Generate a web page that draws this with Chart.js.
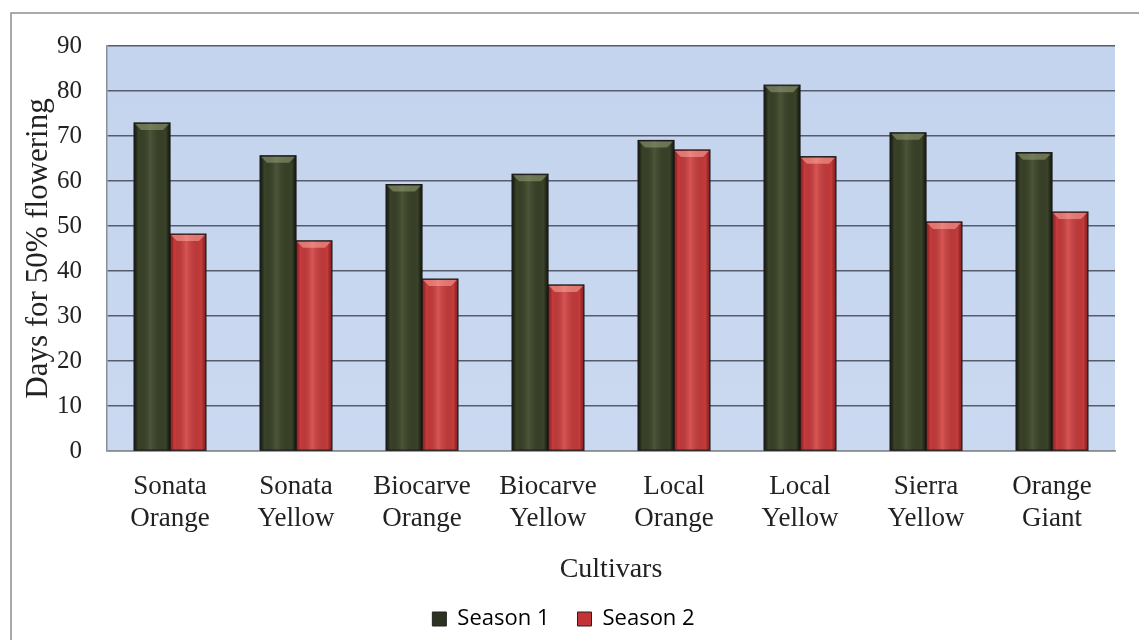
<!DOCTYPE html>
<html>
<head>
<meta charset="utf-8">
<script src="https://cdn.jsdelivr.net/npm/chart.js@4/dist/chart.umd.min.js"></script>
<style>
  html, body { margin: 0; padding: 0; background: #ffffff; }
  #wrap { width: 1139px; height: 640px; position: relative; }
</style>
</head>
<body>
<div id="wrap"><canvas id="c" width="1139" height="640"></canvas></div>
<script>
// Days for 50% flowering per cultivar, two growing seasons
const cultivars = [
  ["Sonata", "Orange"], ["Sonata", "Yellow"], ["Biocarve", "Orange"], ["Biocarve", "Yellow"],
  ["Local", "Orange"], ["Local", "Yellow"], ["Sierra", "Yellow"], ["Orange", "Giant"]
];
const season1 = [72.9, 65.6, 59.2, 61.5, 69.0, 81.3, 70.7, 66.3];
const season2 = [48.2, 46.7, 38.2, 36.9, 66.9, 65.4, 50.9, 53.1];
const seriesNames = ["Season 1", "Season 2"];
const yTicks = [0, 10, 20, 30, 40, 50, 60, 70, 80, 90];

const serif = "'Liberation Serif', 'DejaVu Serif', serif";
const sans = "'Open Sans', 'Liberation Sans', sans-serif";

// Outer frame and plot background
const framePlugin = {
  id: 'frame',
  beforeDraw(chart) {
    const { ctx, chartArea: a } = chart;
    ctx.save();
    ctx.fillStyle = '#ffffff';
    ctx.fillRect(0, 0, chart.width, chart.height);
    ctx.strokeStyle = '#8a8d92';
    ctx.lineWidth = 1.5;
    ctx.strokeRect(11, 13, chart.width + 10, chart.height + 20);
    const g = ctx.createLinearGradient(0, a.top, 0, a.bottom);
    g.addColorStop(0, '#c4d4ee');
    g.addColorStop(1, '#cad9f0');
    ctx.fillStyle = g;
    ctx.fillRect(a.left, a.top, a.right - a.left, a.bottom - a.top);
    ctx.restore();
  }
};

// Rounded, shaded look on each bar drawn by the library
const shadePlugin = {
  id: 'shade',
  afterDatasetsDraw(chart) {
    const { ctx } = chart;
    const tones = [
      { edge: 'rgba(10,14,8,0.75)', mid: 'rgba(110,120,85,0.35)', cap: 'rgba(150,160,120,0.55)' },
      { edge: 'rgba(110,15,20,0.6)', mid: 'rgba(255,150,140,0.30)', cap: 'rgba(255,170,160,0.55)' }
    ];
    chart.data.datasets.forEach((ds, di) => {
      const meta = chart.getDatasetMeta(di);
      const t = tones[di];
      meta.data.forEach(bar => {
        const x0 = bar.x - bar.width / 2, x1 = bar.x + bar.width / 2;
        const y0 = bar.y, y1 = bar.base;
        ctx.save();
        const g = ctx.createLinearGradient(x0, 0, x1, 0);
        g.addColorStop(0, t.edge);
        g.addColorStop(0.12, 'rgba(0,0,0,0)');
        g.addColorStop(0.45, t.mid);
        g.addColorStop(0.88, 'rgba(0,0,0,0)');
        g.addColorStop(1, t.edge);
        ctx.fillStyle = g;
        ctx.fillRect(x0, y0, x1 - x0, y1 - y0);
        // bevelled top cap
        const c = 7;
        ctx.beginPath();
        ctx.moveTo(x0 + 1, y0 + 1);
        ctx.lineTo(x1 - 1, y0 + 1);
        ctx.lineTo(x1 - c, y0 + c);
        ctx.lineTo(x0 + c, y0 + c);
        ctx.closePath();
        ctx.fillStyle = t.cap;
        ctx.fill();
        ctx.strokeStyle = '#1a1a1a';
        ctx.lineWidth = 1.2;
        ctx.strokeRect(x0, y0, x1 - x0, y1 - y0);
        ctx.restore();
      });
    });
  }
};

const PLOT_BOTTOM = 451;
const PAD_BOTTOM = 0;

new Chart(document.getElementById('c'), {
  type: 'bar',
  data: {
    labels: cultivars,
    datasets: [
      { label: seriesNames[0], data: season1, backgroundColor: '#3a4229', borderWidth: 0,
        categoryPercentage: 0.57, barPercentage: 1.0 },
      { label: seriesNames[1], data: season2, backgroundColor: '#c63a3b', borderWidth: 0,
        categoryPercentage: 0.57, barPercentage: 1.0 }
    ]
  },
  options: {
    responsive: false,
    animation: false,
    layout: { padding: { left: 12, right: 24, top: 46, bottom: PAD_BOTTOM } },
    plugins: {
      tooltip: { enabled: false },
      legend: {
        position: 'bottom',
        labels: {
          color: '#222222',
          font: { family: sans, size: 22 },
          boxWidth: 14, boxHeight: 14, padding: 28,
          generateLabels(chart) {
            const fills = ['#2c3320', '#c33436'];
            return chart.data.datasets.map((ds, i) => ({
              text: ds.label, fillStyle: fills[i], strokeStyle: '#222', lineWidth: 1,
              datasetIndex: i, hidden: false
            }));
          }
        }
      }
    },
    scales: {
      x: {
        afterFit(scale) {
          const lh = (scale.chart.legend && scale.chart.legend.height) || 80;
          scale.height = scale.chart.height - PAD_BOTTOM - lh - PLOT_BOTTOM;
        },
        grid: { display: false, drawTicks: false },
        border: { display: true, color: '#8a8e96', width: 1.5 },
        ticks: {
          color: '#222222', font: { family: serif, size: 27, lineHeight: 1.18 },
          padding: 20, maxRotation: 0, autoSkip: false
        },
        title: {
          display: true, text: 'Cultivars', color: '#222222',
          font: { family: serif, size: 28, lineHeight: 1.0 }, padding: { top: 0, bottom: -4 }
        }
      },
      y: {
        min: 0, max: 90,
        afterBuildTicks(scale) { scale.ticks = yTicks.map(v => ({ value: v })); },
        afterFit(scale) { scale.width = 107 - 12; },
        grid: { color: '#565c6c', lineWidth: 1.6, drawTicks: false },
        border: { display: true, color: '#8a8e96', width: 1.5 },
        ticks: { color: '#222222', font: { family: serif, size: 25 }, padding: 25 },
        title: {
          display: true, text: 'Days for 50% flowering', color: '#222222',
          font: { family: serif, size: 31 }, padding: { top: 8, bottom: 0 }
        }
      }
    }
  },
  plugins: [framePlugin, shadePlugin]
});
</script>
</body>
</html>
